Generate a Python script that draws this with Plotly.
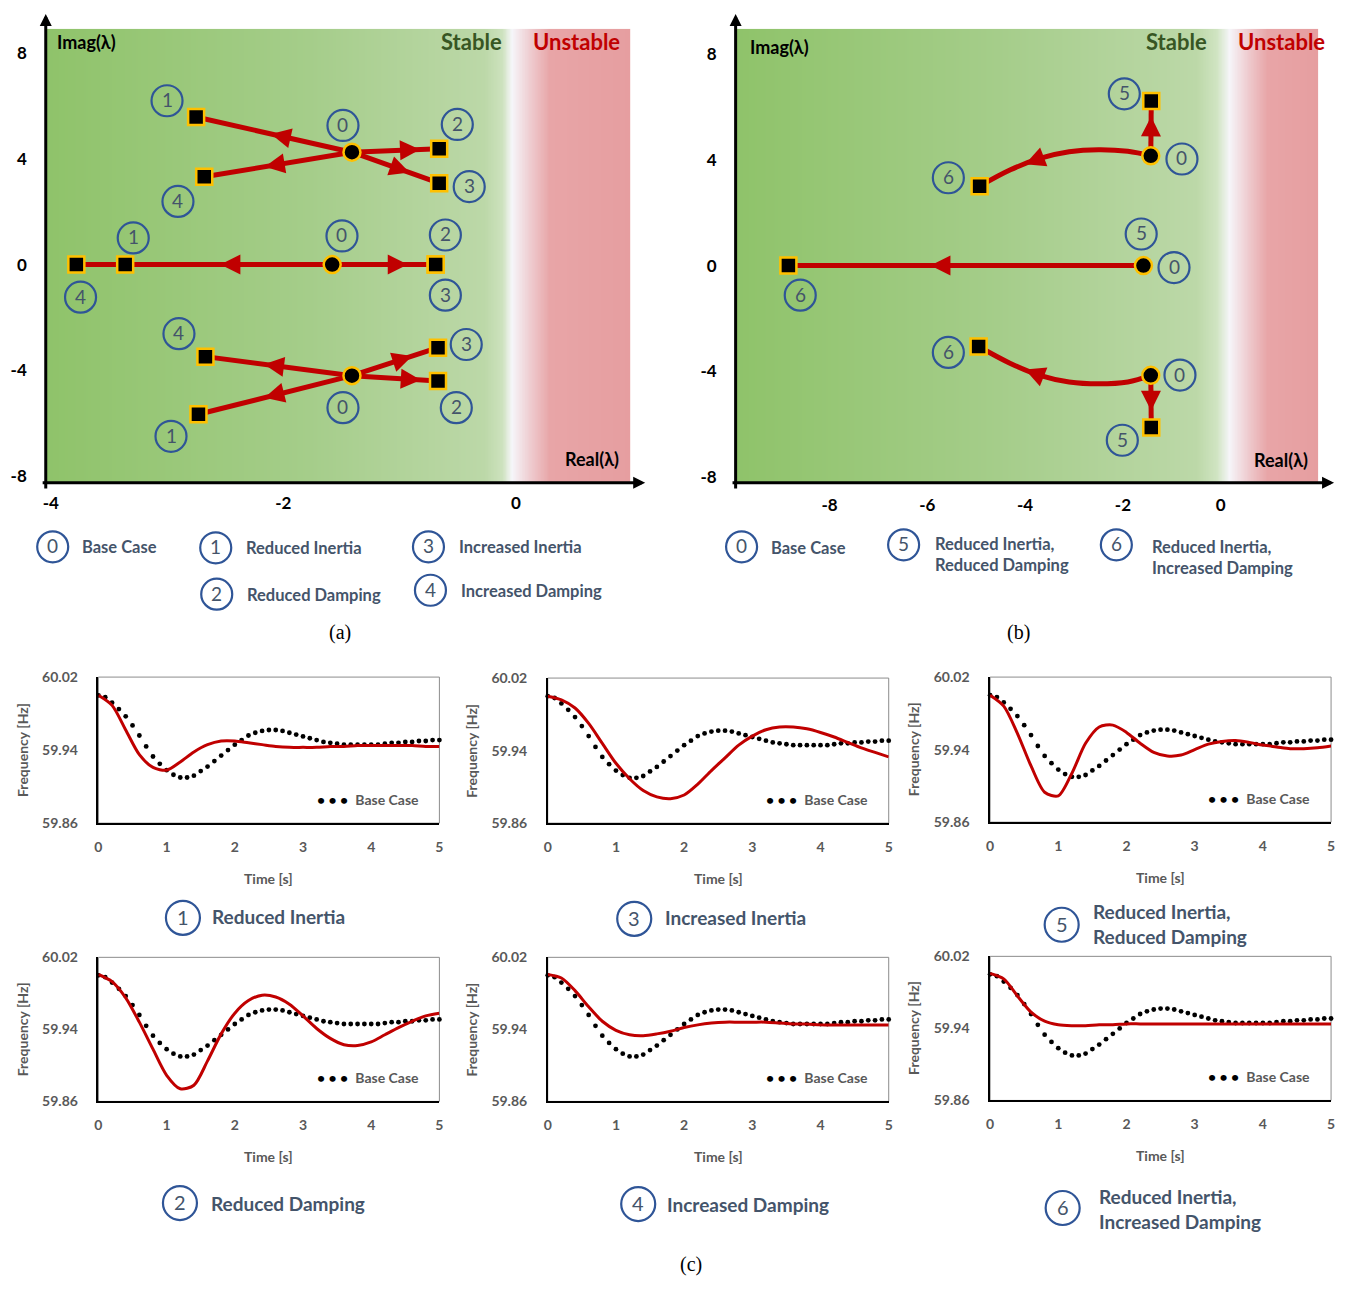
import numpy as np
import plotly.graph_objects as go

W, H = 1346, 1290
def px(x): return x / W
def py(y): return 1 - y / H

# ---------------- DATA ----------------
# Panel (a) eigenvalues: [upper mode, real mode, lower mode]
a_base_re = [-1.41, -1.58, -1.41]
a_base_im = [4.25, 0.0, -4.20]
a_c1_re = [-2.75, -3.36, -2.73]   # reduced inertia
a_c1_im = [5.58, 0.0, -5.66]
a_c2_re = [-0.66, -0.69, -0.67]   # reduced damping
a_c2_im = [4.38, 0.0, -4.40]
a_c3_re = [-0.66, -0.69, -0.67]   # increased inertia
a_c3_im = [3.08, 0.0, -3.14]
a_c4_re = [-2.68, -3.78, -2.67]   # increased damping
a_c4_im = [3.32, 0.0, -3.48]

# Panel (b) eigenvalues
b_base_re = [-1.43, -1.58, -1.43]
b_base_im = [4.15, 0.0, -4.15]
b_c5_re = [-1.42, -1.42]          # upper, lower (real mode unchanged)
b_c5_im = [6.22, -6.12]
b_c6_re = [-4.93, -8.84, -4.95]
b_c6_im = [3.00, 0.0, -3.06]
b_path6_up_re = [-1.43, -1.90, -2.50, -3.10, -3.70, -4.30, -4.93]
b_path6_up_im = [4.15, 4.32, 4.38, 4.30, 4.05, 3.62, 3.00]
b_path6_lo_re = [-1.43, -1.90, -2.50, -3.10, -3.70, -4.30, -4.95]
b_path6_lo_im = [-4.15, -4.40, -4.47, -4.40, -4.15, -3.70, -3.06]

a_xticks = [-4, -2, 0]
b_xticks = [-10, -8, -6, -4, -2, 0]
imag_ticks = [8, 4, 0, -4, -8]

# Frequency responses
t_base = [i / 10 for i in range(51)]
f_base = [60.000, 59.998, 59.992, 59.985, 59.977, 59.967, 59.956, 59.944, 59.933, 59.925,
          59.918, 59.913, 59.910, 59.910, 59.912, 59.917, 59.922, 59.928, 59.934, 59.940,
          59.946, 59.951, 59.956, 59.959, 59.961, 59.962, 59.962, 59.961, 59.959, 59.957,
          59.955, 59.953, 59.951, 59.949, 59.948, 59.947, 59.946, 59.946, 59.946, 59.946,
          59.946, 59.946, 59.947, 59.948, 59.948, 59.949, 59.949, 59.950, 59.950, 59.951,
          59.951]
t_case = [i / 5 for i in range(26)]
f_case1 = [60.000, 59.989, 59.962, 59.935, 59.921, 59.918, 59.927, 59.938, 59.946, 59.950,
           59.950, 59.948, 59.946, 59.944, 59.943, 59.943, 59.943, 59.944, 59.944, 59.945,
           59.945, 59.945, 59.945, 59.945, 59.944, 59.944]
f_case2 = [60.001, 59.993, 59.975, 59.948, 59.918, 59.889, 59.874, 59.878, 59.905, 59.935,
           59.958, 59.972, 59.978, 59.976, 59.968, 59.955, 59.941, 59.930, 59.923, 59.922,
           59.926, 59.934, 59.942, 59.949, 59.955, 59.958]
f_case3 = [60.000, 59.996, 59.987, 59.970, 59.948, 59.926, 59.909, 59.896, 59.889, 59.887,
           59.891, 59.903, 59.918, 59.932, 59.946, 59.956, 59.963, 59.966, 59.966, 59.964,
           59.960, 59.955, 59.949, 59.943, 59.938, 59.933]
f_case4 = [60.001, 59.997, 59.983, 59.965, 59.949, 59.939, 59.934, 59.933, 59.935, 59.938,
           59.942, 59.945, 59.947, 59.948, 59.948, 59.948, 59.948, 59.947, 59.946, 59.946,
           59.945, 59.945, 59.945, 59.945, 59.945, 59.945]
f_case5 = [60.000, 59.988, 59.958, 59.922, 59.893, 59.889, 59.914, 59.947, 59.965, 59.967,
           59.959, 59.947, 59.937, 59.933, 59.934, 59.940, 59.946, 59.949, 59.950, 59.948,
           59.945, 59.943, 59.941, 59.941, 59.942, 59.944]
f_case6 = [60.001, 59.995, 59.976, 59.958, 59.948, 59.944, 59.943, 59.943, 59.944, 59.944,
           59.945, 59.945, 59.945, 59.945, 59.945, 59.945, 59.945, 59.945, 59.945, 59.945,
           59.945, 59.945, 59.945, 59.945, 59.945, 59.945]
freq_ticks = [59.86, 59.94, 60.02]
time_ticks = [0, 1, 2, 3, 4, 5]

# ---------------- STYLE ----------------
RED = '#c00000'
BLUE = '#2f5597'
NUMC = '#44546a'
GRAY = '#595959'
FONT = 'Lato'

fig = go.Figure()
shapes, annots = [], []

def circ_label(num, cx, cy, r=15.5, fs=19):
    shapes.append(dict(type='circle', xref='paper', yref='paper', xsizemode='pixel',
                       ysizemode='pixel', xanchor=px(cx), yanchor=py(cy),
                       x0=-r, x1=r, y0=-r, y1=r, line=dict(color=BLUE, width=2.2),
                       fillcolor='rgba(0,0,0,0)', layer='above'))
    annots.append(dict(xref='paper', yref='paper', x=px(cx), y=py(cy) + 0.0008, text=str(num),
                       showarrow=False, xanchor='center', yanchor='middle',
                       font=dict(size=fs, color=NUMC, family=FONT)))

def text(t, x, y, size, color, xanchor='left', bold=True, family=FONT, angle=0):
    annots.append(dict(xref='paper', yref='paper', x=px(x), y=py(y), text=(f'<b>{t}</b>' if bold else t),
                       showarrow=False, xanchor=xanchor, yanchor='middle', textangle=angle,
                       align='left', font=dict(size=size, color=color, family=family)))

def arrow_on(xr, yr, x0, y0, x1, y1, frac, back=0.1):
    tx, ty = x0 + frac * (x1 - x0), y0 + frac * (y1 - y0)
    sx, sy = x0 + (frac - back) * (x1 - x0), y0 + (frac - back) * (y1 - y0)
    annots.append(dict(x=tx, y=ty, ax=sx, ay=sy, xref=xr, yref=yr, axref=xr, ayref=yr,
                       showarrow=True, arrowhead=2, arrowsize=1.0, arrowwidth=4,
                       arrowcolor=RED, text=''))

def axis_arrow(x_tip, y_tip, dx, dy):
    annots.append(dict(xref='paper', yref='paper', x=px(x_tip), y=py(y_tip), ax=dx, ay=dy,
                       showarrow=True, arrowhead=2, arrowsize=0.8, arrowwidth=3,
                       arrowcolor='black', text=''))

def bg_scale(stops):
    return [[p, f'rgb({c[0]},{c[1]},{c[2]})'] for p, c in stops]

# ---------------- PANEL (a) ----------------
ax_a = dict(x=[-4.043, 0.983], y=[-8.246, 8.918])
stops_a = [(0.0, (143, 195, 106)), (0.45, (165, 205, 138)), (0.75, (188, 216, 168)),
           (0.78, (205, 226, 190)), (0.797, (246, 246, 250)), (0.822, (240, 212, 216)),
           (0.862, (232, 165, 167)), (1.0, (230, 158, 160))]
bgx = np.linspace(ax_a['x'][0], ax_a['x'][1], 400)
rel = (bgx - bgx[0]) / (bgx[-1] - bgx[0])
fig.add_trace(go.Heatmap(x=bgx, y=ax_a['y'], z=[rel, rel], colorscale=bg_scale(stops_a),
                         zmin=0, zmax=1, showscale=False, hoverinfo='skip', zsmooth='best',
                         xaxis='x', yaxis='y'))

cases_a = [(a_c1_re, a_c1_im), (a_c2_re, a_c2_im), (a_c3_re, a_c3_im), (a_c4_re, a_c4_im)]
for cre, cim in cases_a:
    for i in range(3):
        fig.add_trace(go.Scatter(x=[a_base_re[i], cre[i]], y=[a_base_im[i], cim[i]], mode='lines',
                                 line=dict(color=RED, width=5), hoverinfo='skip',
                                 xaxis='x', yaxis='y', showlegend=False))
arrow_fracs_a = [[0.52, 0.54, 0.57], [0.78, 0.73, 0.80], [0.66, None, 0.70], [0.59, None, 0.60]]
for (cre, cim), fr in zip(cases_a, arrow_fracs_a):
    for i in range(3):
        if fr[i] is not None:
            arrow_on('x', 'y', a_base_re[i], a_base_im[i], cre[i], cim[i], fr[i])

sq_x = a_c1_re + a_c2_re + a_c3_re + a_c4_re
sq_y = a_c1_im + a_c2_im + a_c3_im + a_c4_im
fig.add_trace(go.Scatter(x=sq_x, y=sq_y, mode='markers', hoverinfo='skip', showlegend=False,
                         marker=dict(symbol='square', size=16, color='black',
                                     line=dict(color='#ffc000', width=2.5)), xaxis='x', yaxis='y'))
fig.add_trace(go.Scatter(x=a_base_re, y=a_base_im, mode='markers', hoverinfo='skip', showlegend=False,
                         marker=dict(symbol='circle', size=17, color='black',
                                     line=dict(color='#ffc000', width=2.5)), xaxis='x', yaxis='y'))

# ---------------- PANEL (b) ----------------
ax_b = dict(x=[-9.919, 1.992], y=[-8.209, 8.955])
stops_b = [(0.0, (143, 195, 106)), (0.45, (165, 205, 138)), (0.79, (188, 216, 168)),
           (0.825, (208, 228, 194)), (0.847, (246, 246, 250)), (0.872, (240, 212, 216)),
           (0.912, (232, 165, 167)), (1.0, (230, 158, 160))]
bgx2 = np.linspace(ax_b['x'][0], ax_b['x'][1], 400)
rel2 = (bgx2 - bgx2[0]) / (bgx2[-1] - bgx2[0])
fig.add_trace(go.Heatmap(x=bgx2, y=ax_b['y'], z=[rel2, rel2], colorscale=bg_scale(stops_b),
                         zmin=0, zmax=1, showscale=False, hoverinfo='skip', zsmooth='best',
                         xaxis='x2', yaxis='y2'))
lines_b = [([b_base_re[1], b_c6_re[1]], [b_base_im[1], b_c6_im[1]]),
           ([b_base_re[0], b_c5_re[0]], [b_base_im[0], b_c5_im[0]]),
           ([b_base_re[2], b_c5_re[1]], [b_base_im[2], b_c5_im[1]])]
for lx, ly in lines_b:
    fig.add_trace(go.Scatter(x=lx, y=ly, mode='lines', line=dict(color=RED, width=5),
                             hoverinfo='skip', showlegend=False, xaxis='x2', yaxis='y2'))
for prx, pry in [(b_path6_up_re, b_path6_up_im), (b_path6_lo_re, b_path6_lo_im)]:
    fig.add_trace(go.Scatter(x=prx, y=pry, mode='lines', line=dict(color=RED, width=5, shape='spline'),
                             hoverinfo='skip', showlegend=False, xaxis='x2', yaxis='y2'))
arrow_on('x2', 'y2', b_base_re[1], b_base_im[1], b_c6_re[1], b_c6_im[1], 0.60, 0.05)
arrow_on('x2', 'y2', b_base_re[0], b_base_im[0], b_c5_re[0], b_c5_im[0], 0.72, 0.3)
arrow_on('x2', 'y2', b_base_re[2], b_base_im[2], b_c5_re[1], b_c5_im[1], 0.68, 0.3)
for prx, pry in [(b_path6_up_re, b_path6_up_im), (b_path6_lo_re, b_path6_lo_im)]:
    arrow_on('x2', 'y2', prx[4], pry[4], prx[5], pry[5], 0.5, 0.5)

fig.add_trace(go.Scatter(x=b_c5_re + b_c6_re, y=b_c5_im + b_c6_im, mode='markers', hoverinfo='skip',
                         showlegend=False, marker=dict(symbol='square', size=16, color='black',
                                                       line=dict(color='#ffc000', width=2.5)),
                         xaxis='x2', yaxis='y2'))
fig.add_trace(go.Scatter(x=b_base_re, y=b_base_im, mode='markers', hoverinfo='skip', showlegend=False,
                         marker=dict(symbol='circle', size=17, color='black',
                                     line=dict(color='#ffc000', width=2.5)), xaxis='x2', yaxis='y2'))

# ---------------- SMALL PANELS ----------------
boxes = [  # (x0, x1, ytop, ybot) in pixels
    (95, 438, 677, 825), (547, 890, 678, 825), (992, 1335, 677, 824),
    (95, 438, 961, 1107), (547, 890, 961, 1107), (992, 1335, 960, 1106)]
series = [f_case1, f_case3, f_case5, f_case2, f_case4, f_case6]

layout_axes = {}
tickfont_big = dict(size=17, color='black', family=FONT, weight='bold')
layout_axes['xaxis'] = dict(domain=[px(42), px(630)], range=ax_a['x'], anchor='y', showgrid=False,
                            zeroline=False, showline=False, tickvals=a_xticks,
                            ticktext=[str(v) for v in a_xticks], ticks='', tickfont=tickfont_big,
                            ticklabelstandoff=8)
layout_axes['yaxis'] = dict(domain=[py(480), py(20)], range=ax_a['y'], anchor='x', showgrid=False,
                            zeroline=False, showline=False, tickvals=imag_ticks,
                            ticktext=[str(v) for v in imag_ticks], ticks='', tickfont=tickfont_big,
                            ticklabelstandoff=18)
layout_axes['xaxis2'] = dict(domain=[px(736), px(1322)], range=ax_b['x'], anchor='y2', showgrid=False,
                             zeroline=False, showline=False, tickvals=b_xticks,
                             ticktext=[str(v) for v in b_xticks], ticks='', tickfont=tickfont_big,
                             ticklabelstandoff=10)
layout_axes['yaxis2'] = dict(domain=[py(480), py(20)], range=ax_b['y'], anchor='x2', showgrid=False,
                             zeroline=False, showline=False, tickvals=imag_ticks,
                             ticktext=[str(v) for v in imag_ticks], ticks='', tickfont=tickfont_big,
                             ticklabelstandoff=18)

small_font = dict(size=14, color=GRAY, family=FONT, weight='bold')
for k, ((x0, x1, yt, yb), fc) in enumerate(zip(boxes, series)):
    n = k + 3
    xa, ya = f'x{n}', f'y{n}'
    fig.add_trace(go.Scatter(x=t_base, y=f_base, mode='markers', hoverinfo='skip', showlegend=False,
                             marker=dict(size=4.8, color='black'), xaxis=xa, yaxis=ya, cliponaxis=False))
    fig.add_trace(go.Scatter(x=t_case, y=fc, mode='lines', hoverinfo='skip', showlegend=False,
                             line=dict(color=RED, width=3, shape='spline', smoothing=0.8),
                             xaxis=xa, yaxis=ya))
    layout_axes[f'xaxis{n}'] = dict(domain=[px(x0), px(x1)], range=[0, 5], anchor=ya, showgrid=False,
                                    zeroline=False, showline=True, linecolor='black', linewidth=1.5,
                                    tickvals=time_ticks, ticks='', tickfont=small_font,
                                    ticklabelstandoff=10)
    layout_axes[f'yaxis{n}'] = dict(domain=[py(yb), py(yt)], range=[59.86, 60.02], anchor=xa,
                                    showgrid=False, zeroline=False, showline=True, linecolor='black',
                                    linewidth=1.5, tickvals=freq_ticks,
                                    ticktext=[f'{v:.2f}' for v in freq_ticks], ticks='',
                                    tickfont=small_font, ticklabelstandoff=16)
    shapes.append(dict(type='rect', xref=f'{xa} domain', yref=f'{ya} domain', x0=0, x1=1, y0=0, y1=1,
                       line=dict(color='#8c8c8c', width=1), layer='below'))
    annots.append(dict(xref=f'{xa} domain', yref=f'{ya} domain', x=0.945, y=0.165, xanchor='right',
                       yanchor='middle', showarrow=False,
                       text="<span style='color:black'><b>• • •</b></span>  <b>Base Case</b>",
                       font=dict(size=14, color=GRAY, family=FONT)))
    text('Frequency [Hz]', x0 - 77, (yt + yb) / 2, 14, GRAY, xanchor='center', angle=-90)
    text('Time [s]', (x0 + x1) / 2, yb + 56, 14, GRAY, xanchor='center')

# ---------------- TEXTS / LABELS ----------------
axis_arrow(42, 5, 0, 476)
axis_arrow(645, 480, -604, 0)
axis_arrow(736, 5, 0, 476)
axis_arrow(1338, 480, -603, 0)

text('Imag(λ)', 83, 33, 18, 'black', 'center')
text('Stable', 470, 33, 22, '#375623', 'center')
text('Unstable', 576, 33, 22, RED, 'center')
text('Real(λ)', 592, 456, 18, 'black', 'center')
text('Imag(λ)', 780, 39, 18, 'black', 'center')
text('Stable', 1180, 33, 22, '#375623', 'center')
text('Unstable', 1285, 33, 22, RED, 'center')
text('Real(λ)', 1285, 457, 18, 'black', 'center')

labels_a = [(1, 164, 93), (0, 341, 118), (2, 456, 117), (4, 175, 195), (3, 468, 180),
            (1, 130, 232), (0, 340, 230), (2, 444, 229), (4, 77, 292), (3, 444, 290),
            (4, 176, 329), (3, 465, 340), (0, 341, 404), (2, 455, 404), (1, 168, 433)]
labels_b = [(5, 1127, 86), (0, 1185, 152), (6, 950, 171), (5, 1144, 228), (0, 1177, 262),
            (6, 801, 290), (6, 950, 348), (0, 1183, 371), (5, 1125, 437)]
for n_, cx, cy in labels_a + labels_b:
    circ_label(n_, cx, cy)

LEG = 16.5
for n_, cx, cy, t, tx, ty in [
        (0, 49, 545, 'Base Case', 76, 545), (1, 213, 546, 'Reduced Inertia', 241, 546),
        (3, 427, 545, 'Increased Inertia', 456, 545), (2, 214, 593, 'Reduced Damping', 242, 594),
        (4, 429, 589, 'Increased Damping', 458, 590), (0, 742, 545, 'Base Case', 770, 546),
        (5, 905, 543, 'Reduced Inertia,<br>Reduced Damping', 935, 553),
        (6, 1119, 543, 'Reduced Inertia,<br>Increased Damping', 1153, 556)]:
    circ_label(n_, cx, cy)
    text(t, tx, ty, LEG, NUMC)

for n_, cx, cy, t, tx, ty in [
        (1, 180, 921, 'Reduced Inertia', 207, 920), (3, 634, 922, 'Increased Inertia', 663, 921),
        (5, 1064, 928, 'Reduced Inertia,<br>Reduced Damping', 1093, 927),
        (2, 177, 1210, 'Reduced Damping', 206, 1210), (4, 638, 1211, 'Increased Damping', 665, 1211),
        (6, 1065, 1215, 'Reduced Inertia,<br>Increased Damping', 1100, 1216)]:
    circ_label(n_, cx, cy, r=17, fs=20)
    text(t, tx, ty, 19, NUMC)

text('(a)', 338, 632, 20, 'black', 'center', bold=False, family='Liberation Serif')
text('(b)', 1021, 632, 20, 'black', 'center', bold=False, family='Liberation Serif')
text('(c)', 691, 1272, 20, 'black', 'center', bold=False, family='Liberation Serif')

fig.update_layout(width=W, height=H, margin=dict(l=0, r=0, t=0, b=0), paper_bgcolor='white',
                  plot_bgcolor='white', showlegend=False, shapes=shapes, annotations=annots,
                  font=dict(family=FONT), **layout_axes)
fig.write_html('out.html', config={'displayModeBar': False},
               post_script="document.body.style.margin='0px';"
                           "document.documentElement.style.overflow='hidden';")
